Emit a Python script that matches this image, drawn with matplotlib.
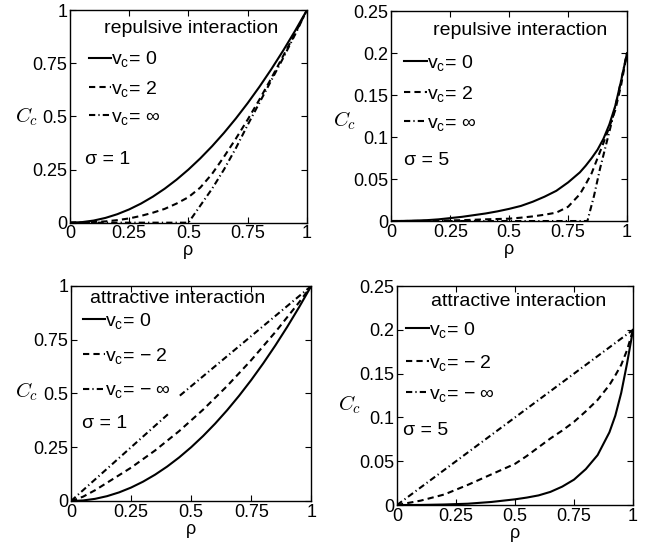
import numpy as np
import matplotlib
matplotlib.use('Agg')
import matplotlib.pyplot as plt

plt.rcParams['font.family'] = ['Liberation Sans', 'DejaVu Sans']
plt.rcParams['mathtext.fontset'] = 'cm'

# --- data ---
rho_grid = [0, 0.05, 0.1, 0.15, 0.2, 0.25, 0.3, 0.35, 0.4, 0.45, 0.5,
            0.55, 0.6, 0.65, 0.7, 0.75, 0.8, 0.85, 0.9, 0.95, 1.0]

# sigma = 1 (top left / bottom left)
cc_s1_v0 = [0, 0.0025, 0.01, 0.0225, 0.04, 0.0625, 0.09, 0.1225, 0.16, 0.2025, 0.25,
            0.3025, 0.36, 0.4225, 0.49, 0.5625, 0.64, 0.7225, 0.81, 0.9025, 1.0]
cc_s1_rep2 = [0, 0.001, 0.003, 0.006, 0.012, 0.02, 0.032, 0.047, 0.065, 0.09, 0.12,
              0.165, 0.23, 0.31, 0.395, 0.485, 0.58, 0.68, 0.785, 0.89, 1.0]
rho_s1_repinf = [0, 0.5, 0.55, 0.6, 0.65, 0.7, 0.75, 0.8, 0.85, 0.9, 0.95, 1.0]
cc_s1_repinf = [0, 0, 0.08, 0.16, 0.25, 0.35, 0.46, 0.565, 0.67, 0.775, 0.885, 1.0]
cc_s1_att2 = [0, 0.02, 0.05, 0.085, 0.12, 0.155, 0.195, 0.235, 0.28, 0.325, 0.375,
              0.425, 0.48, 0.535, 0.595, 0.655, 0.72, 0.785, 0.855, 0.925, 1.0]
rho_s1_attinf = [0, 0.405, np.nan, 0.453, 1.0]
cc_s1_attinf = [0, 0.405, np.nan, 0.49, 1.0]

# sigma = 5, repulsive (top right)
rho_s5 = [0, 0.05, 0.1, 0.15, 0.2, 0.25, 0.3, 0.35, 0.4, 0.45, 0.5, 0.55, 0.6,
          0.65, 0.7, 0.75, 0.8, 0.825, 0.85, 0.875, 0.9, 0.925, 0.95, 0.975, 1.0]
cc_s5_rep0 = [0, 0.0001, 0.0005, 0.001, 0.002, 0.0035, 0.005, 0.007, 0.009, 0.0115, 0.0145,
              0.018, 0.023, 0.029, 0.036, 0.046, 0.058, 0.066, 0.075, 0.085, 0.098,
              0.115, 0.137, 0.167, 0.2]
cc_s5_rep2 = [0, 0, 0.0001, 0.0002, 0.0005, 0.0007, 0.001, 0.0015, 0.002, 0.0024, 0.0028,
              0.004, 0.0055, 0.0075, 0.01, 0.017, 0.032, 0.044, 0.057, 0.075, 0.093,
              0.112, 0.132, 0.162, 0.2]
rho_s5_repinf = [0, 0.832, 0.86, 0.886, 0.93, 0.96, 1.0]
cc_s5_repinf = [0, 0, 0.03, 0.063, 0.112, 0.148, 0.2]

# sigma = 5, attractive (bottom right)
rho_s5a = [0, 0.1, 0.2, 0.3, 0.4, 0.5, 0.55, 0.6, 0.65, 0.7, 0.75, 0.8,
           0.85, 0.9, 0.925, 0.95, 0.975, 1.0]
cc_s5_att0 = [0, 0.0001, 0.0006, 0.0015, 0.0035, 0.0065, 0.0085, 0.011, 0.015, 0.021,
              0.029, 0.041, 0.057, 0.083, 0.102, 0.128, 0.162, 0.2]
cc_s5_att2 = [0, 0.005, 0.012, 0.023, 0.035, 0.047, 0.056, 0.066, 0.076, 0.085,
              0.095, 0.107, 0.12, 0.137, 0.148, 0.16, 0.177, 0.2]
rho_s5_attinf = [0, 1.0]
cc_s5_attinf = [0, 0.2]

ticks_x = [0, 0.25, 0.5, 0.75, 1]
ticklab_x = ['0', '0.25', '0.5', '0.75', '1']
ticks_y1 = [0, 0.25, 0.5, 0.75, 1]
ticklab_y1 = ['0', '0.25', '0.5', '0.75', '1']
ticks_y5 = [0, 0.05, 0.1, 0.15, 0.2, 0.25]
ticklab_y5 = ['0', '0.05', '0.1', '0.15', '0.2', '0.25']

fig = plt.figure(figsize=(6.6, 5.52), dpi=100)

FS = 13     # ticks
FT = 14     # in-plot text
DASH = (0, (3, 2))
DASHDOT = (0, (3, 1.5, 0.6, 1.5))

panels = [
    dict(rect=[0.106, 0.5966, 0.359, 0.385], title='repulsive interaction', sig='σ = 1',
         curves=[(rho_grid, cc_s1_v0, '-', '0'), (rho_grid, cc_s1_rep2, DASH, '2'),
                 (rho_s1_repinf, cc_s1_repinf, DASHDOT, '∞')],
         ylim=1, yt=ticks_y1, ytl=ticklab_y1, tpos=(0.51, 0.915), lpos=(0.08, 0.815),
         lsp=0.48, spos=(0.062, 0.295), cpos=(-0.185, 0.5)),
    dict(rect=[0.593, 0.5996, 0.357, 0.380], title='repulsive interaction', sig='σ = 5',
         curves=[(rho_s5, cc_s5_rep0, '-', '0'), (rho_s5, cc_s5_rep2, DASH, '2'),
                 (rho_s5_repinf, cc_s5_repinf, DASHDOT, '∞')],
         ylim=0.25, yt=ticks_y5, ytl=ticklab_y5, tpos=(0.546, 0.91), lpos=(0.055, 0.80),
         lsp=0.55, spos=(0.055, 0.29), cpos=(-0.2, 0.48)),
    dict(rect=[0.1076, 0.0924, 0.364, 0.3895], title='attractive interaction', sig='σ = 1',
         curves=[(rho_grid, cc_s1_v0, '-', '0'), (rho_grid, cc_s1_att2, DASH, '− 2'),
                 (rho_s1_attinf, cc_s1_attinf, DASHDOT, '− ∞')],
         ylim=1, yt=ticks_y1, ytl=ticklab_y1, tpos=(0.445, 0.94), lpos=(0.05, 0.885),
         lsp=0.8, spos=(0.045, 0.36), cpos=(-0.183, 0.51)),
    dict(rect=[0.6015, 0.0851, 0.3576, 0.3967], title='attractive interaction', sig='σ = 5',
         curves=[(rho_s5a, cc_s5_att0, '-', '0'), (rho_s5a, cc_s5_att2, DASH, '− 2'),
                 (rho_s5_attinf, cc_s5_attinf, DASHDOT, '− ∞')],
         ylim=0.25, yt=ticks_y5, ytl=ticklab_y5, tpos=(0.517, 0.93), lpos=(0.04, 0.845),
         lsp=0.66, spos=(0.025, 0.34), cpos=(-0.2, 0.457)),
]

for p in panels:
    ax = fig.add_axes(p['rect'])
    for x, y, ls, lab in p['curves']:
        ax.plot(x, y, color='black', linestyle=ls, lw=1.5,
                label=r'$\mathregular{v_c}$= ' + lab)
    ax.set_xlim(0, 1)
    ax.set_ylim(0, p['ylim'])
    ax.set_xticks(ticks_x)
    ax.set_xticklabels(ticklab_x)
    ax.set_yticks(p['yt'])
    ax.set_yticklabels(p['ytl'])
    ax.tick_params(direction='in', length=4, width=0.8, labelsize=FS, pad=2,
                   top=True, right=True)
    for s in ax.spines.values():
        s.set_linewidth(1.0)
    ax.set_xlabel('ρ', fontsize=FS, labelpad=0)
    ax.text(p['cpos'][0], p['cpos'][1], '$C_c$', transform=ax.transAxes,
            fontsize=15, ha='center', va='center')
    ax.text(p['tpos'][0], p['tpos'][1], p['title'], transform=ax.transAxes,
            fontsize=FT, ha='center', va='center')
    ax.text(p['spos'][0], p['spos'][1], p['sig'], transform=ax.transAxes,
            fontsize=FT, ha='left', va='center')
    ax.legend(loc='upper left', bbox_to_anchor=p['lpos'], frameon=False, fontsize=FT,
              handlelength=1.15, handletextpad=0.0, borderpad=0, borderaxespad=0,
              labelspacing=p['lsp'])

fig.savefig('out.png', dpi=100)
